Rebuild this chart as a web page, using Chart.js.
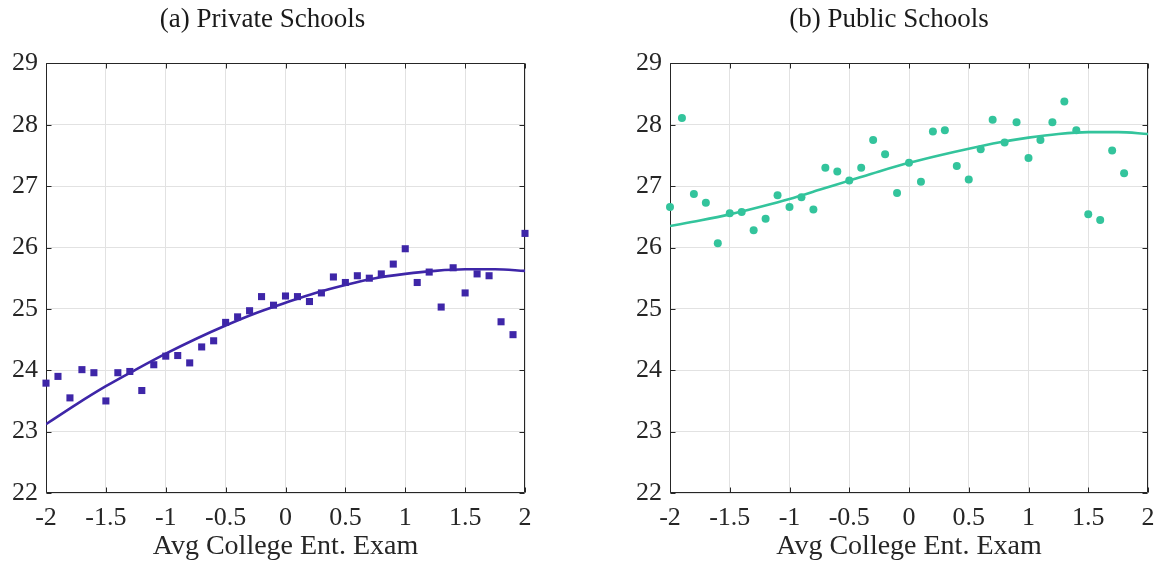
<!DOCTYPE html>
<html>
<head>
<meta charset="utf-8">
<script src="https://cdn.jsdelivr.net/npm/chart.js@4.4.1/dist/chart.umd.min.js"></script>
<style>
  html, body { margin: 0; padding: 0; background: #fff; }
  body { width: 1158px; height: 563px; position: relative; overflow: hidden; }
  .panel { position: absolute; top: 0; height: 563px; }
  #panelPrivate { left: 0; width: 538px; }
  #panelPublic { left: 630px; width: 528px; }
</style>
</head>
<body>
<div class="panel" id="panelPrivate"><canvas id="chartPrivate"></canvas></div>
<div class="panel" id="panelPublic"><canvas id="chartPublic"></canvas></div>
<script>
// Binned average exam score (x) and mean outcome per bin
const privateX = [-2, -1.9, -1.8, -1.7, -1.6, -1.5, -1.4, -1.3, -1.2, -1.1, -1, -0.9, -0.8, -0.7, -0.6,
  -0.5, -0.4, -0.3, -0.2, -0.1, 0, 0.1, 0.2, 0.3, 0.4, 0.5, 0.6, 0.7, 0.8, 0.9, 1, 1.1, 1.2, 1.3, 1.4,
  1.5, 1.6, 1.7, 1.8, 1.9, 2];
const privateY = [23.79, 23.90, 23.55, 24.01, 23.96, 23.50, 23.96, 23.98, 23.67, 24.09, 24.23, 24.24,
  24.12, 24.38, 24.48, 24.78, 24.87, 24.97, 25.20, 25.06, 25.21, 25.20, 25.12, 25.26, 25.52, 25.43,
  25.54, 25.50, 25.57, 25.73, 25.98, 25.43, 25.60, 25.03, 25.67, 25.26, 25.57, 25.54, 24.79, 24.58, 26.23];

const publicX = [-2, -1.9, -1.8, -1.7, -1.6, -1.5, -1.4, -1.3, -1.2, -1.1, -1, -0.9, -0.8, -0.7, -0.6,
  -0.5, -0.4, -0.3, -0.2, -0.1, 0, 0.1, 0.2, 0.3, 0.4, 0.5, 0.6, 0.7, 0.8, 0.9, 1, 1.1, 1.2, 1.3, 1.4,
  1.5, 1.6, 1.7, 1.8];
const publicY = [26.66, 28.11, 26.87, 26.73, 26.07, 26.56, 26.58, 26.28, 26.47, 26.85, 26.66, 26.82,
  26.62, 27.30, 27.24, 27.09, 27.30, 27.75, 27.52, 26.89, 27.38, 27.07, 27.89, 27.91, 27.33, 27.11,
  27.60, 28.08, 27.71, 28.04, 27.46, 27.75, 28.04, 28.38, 27.91, 26.54, 26.45, 27.58, 27.21];

// Fitted curves sampled along the exam axis
const fitX = [-2, -1.75, -1.5, -1.25, -1, -0.75, -0.5, -0.25, 0, 0.25, 0.5, 0.75, 1, 1.25, 1.5, 1.75, 2];
const privateFit = [23.12, 23.44, 23.74, 24.01, 24.27, 24.51, 24.73, 24.93, 25.10, 25.26, 25.39, 25.50,
  25.57, 25.62, 25.645, 25.645, 25.62];
const publicFit = [26.35, 26.44, 26.54, 26.66, 26.79, 26.94, 27.09, 27.24, 27.38, 27.50, 27.61, 27.71,
  27.79, 27.85, 27.88, 27.88, 27.85];

// Axis ticks
const xTicks = [-2, -1.5, -1, -0.5, 0, 0.5, 1, 1.5, 2];
const yTicks = [22, 23, 24, 25, 26, 27, 28, 29];

const SERIF = "'Liberation Serif', 'DejaVu Serif', serif";
const INK = '#262626';
const GRID = '#e2e2e2';

// Box around the plot area with short inward ticks on all four sides
const framePlugin = {
  id: 'frame',
  beforeDatasetsDraw(chart) {
    const { ctx, chartArea: a, scales: { x, y } } = chart;
    const L = Math.round(a.left) + 0.5, R = Math.round(a.right) - 0.5;
    const T = Math.round(a.top) + 0.5, B = Math.round(a.bottom) - 0.5;
    const len = 5;
    ctx.save();
    ctx.strokeStyle = INK;
    ctx.lineWidth = 1;
    ctx.beginPath();
    ctx.rect(L, T, R - L, B - T);
    x.ticks.forEach(t => {
      const px = Math.round(x.getPixelForValue(t.value)) + 0.5;
      ctx.moveTo(px, B); ctx.lineTo(px, B - len);
      ctx.moveTo(px, T); ctx.lineTo(px, T + len);
    });
    y.ticks.forEach(t => {
      const py = Math.round(y.getPixelForValue(t.value)) + 0.5;
      ctx.moveTo(L, py); ctx.lineTo(L + len, py);
      ctx.moveTo(R, py); ctx.lineTo(R - len, py);
    });
    ctx.stroke();
    ctx.restore();
  }
};

function toPoints(xs, ys) {
  return xs.map((v, i) => ({ x: v, y: ys[i] }));
}

function buildChart(canvasId, cfg) {
  return new Chart(document.getElementById(canvasId), {
    data: {
      datasets: [
        {
          type: 'line',
          data: toPoints(fitX, cfg.fit),
          borderColor: cfg.color,
          borderWidth: 2.6,
          pointRadius: 0,
          cubicInterpolationMode: 'monotone',
          fill: false,
          order: 0
        },
        {
          type: 'scatter',
          data: toPoints(cfg.xs, cfg.ys),
          backgroundColor: cfg.color,
          borderColor: cfg.color,
          borderWidth: 0,
          pointStyle: cfg.marker,
          pointRadius: cfg.radius,
          clip: false,
          order: 1
        }
      ]
    },
    options: {
      responsive: true,
      maintainAspectRatio: false,
      animation: false,
      devicePixelRatio: 1,
      layout: { padding: { left: 0, right: cfg.padRight, top: 0, bottom: 0 } },
      plugins: {
        legend: { display: false },
        tooltip: { enabled: false },
        title: {
          display: true,
          text: cfg.title,
          color: '#1a1a1a',
          font: { family: SERIF, size: 27, weight: 'normal' },
          padding: { top: 4, bottom: 27 }
        }
      },
      scales: {
        x: {
          type: 'linear',
          min: -2,
          max: 2,
          afterBuildTicks: s => { s.ticks = xTicks.map(v => ({ value: v })); },
          afterFit: s => { s.height = 70; s.paddingLeft = 0; s.paddingRight = 0; },
          grid: { color: GRID, lineWidth: 1, drawTicks: false },
          border: { display: false },
          ticks: {
            color: INK,
            padding: 10,
            autoSkip: false,
            maxRotation: 0,
            font: { family: SERIF, size: 26 },
            callback: v => String(v)
          },
          title: {
            display: true,
            text: 'Avg College Ent. Exam',
            color: INK,
            font: { family: SERIF, size: 28 },
            padding: { top: 0, bottom: 0 }
          }
        },
        y: {
          type: 'linear',
          min: 22,
          max: 29,
          afterBuildTicks: s => { s.ticks = yTicks.map(v => ({ value: v })); },
          afterFit: s => { s.width = cfg.axisWidth; s.paddingTop = 0; s.paddingBottom = 0; },
          grid: { color: GRID, lineWidth: 1, drawTicks: false },
          border: { display: false },
          ticks: {
            color: INK,
            padding: 8,
            font: { family: SERIF, size: 26 },
            callback: v => String(v)
          }
        }
      }
    },
    plugins: [framePlugin]
  });
}

buildChart('chartPrivate', {
  title: '(a) Private Schools',
  xs: privateX, ys: privateY, fit: privateFit,
  color: '#3E26A8', marker: 'rect', radius: 5,
  axisWidth: 46, padRight: 13
});

buildChart('chartPublic', {
  title: '(b) Public Schools',
  xs: publicX, ys: publicY, fit: publicFit,
  color: '#33C49C', marker: 'circle', radius: 4,
  axisWidth: 40, padRight: 10
});
</script>
</body>
</html>
